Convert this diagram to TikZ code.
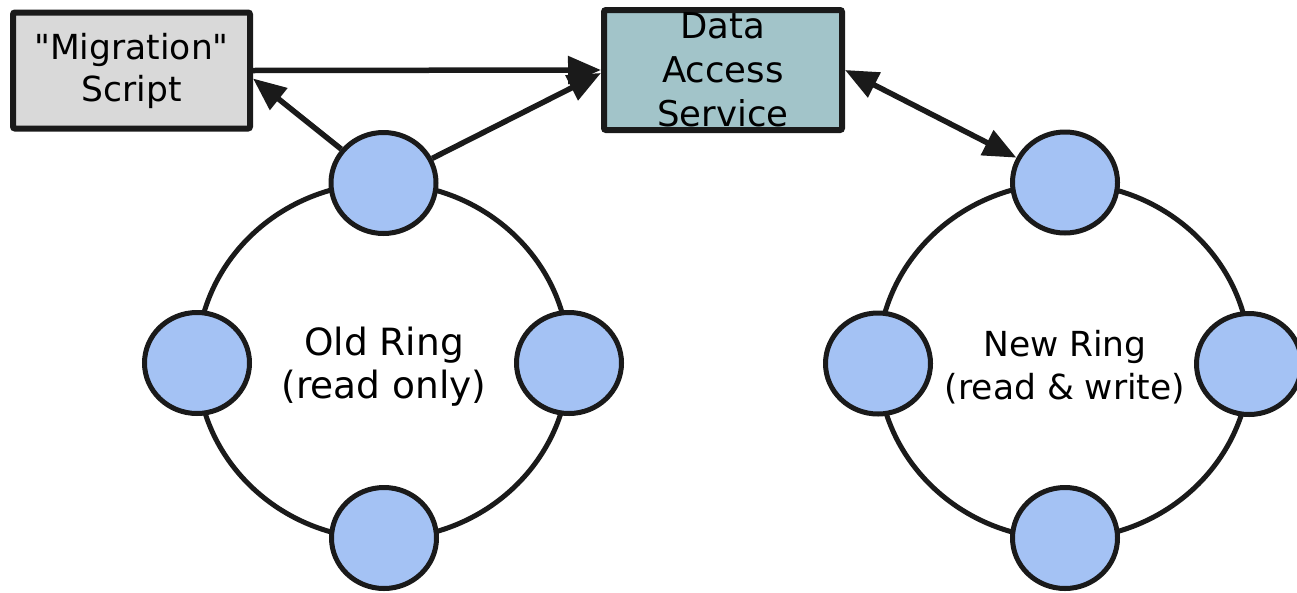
\documentclass[tikz,border=0pt]{standalone}
\usepackage{fontspec}
\setmainfont{DejaVu Sans}[Ligatures=TeXOff]
\usetikzlibrary{shapes.geometric,arrows.meta}
\definecolor{linec}{HTML}{1A1A1A}
\definecolor{grayfill}{HTML}{D9D9D9}
\definecolor{tealfill}{HTML}{A2C4C9}
\definecolor{bluefill}{HTML}{A4C2F4}
\tikzset{
  txt/.style={font=\fontsize{37.5}{43}\selectfont, align=center, text=black},
  boxnode/.style={align=center, text=black, draw=linec, line width=6pt, rounded corners=2pt, inner sep=0pt,
     minimum width=237pt, minimum height=116pt},
  ringnode/.style={ellipse, draw=linec, fill=bluefill, line width=5pt, inner sep=0pt,
     minimum width=105pt, minimum height=101pt},
  ringline/.style={draw=linec, line width=5pt},
  arr/.style={draw=linec, line width=5.5pt, -{Triangle[length=33pt,width=27pt]}},
  arrtwo/.style={draw=linec, line width=5.5pt, {Triangle[length=33pt,width=27pt]}-{Triangle[length=33pt,width=27pt]}}
}
\begin{document}
\begin{tikzpicture}[x=1pt,y=-1pt]
\useasboundingbox (0,0) rectangle (1297,592);
% rings
\draw[ringline] (383,361) ellipse [x radius=186, y radius=178];
\draw[ringline] (1064,361) ellipse [x radius=186, y radius=178];
% boxes
\node[boxnode, fill=grayfill, font=\fontsize{34.5}{42}\selectfont] (mig) at (131.5,70.5) {"Migration"\\Script};
\node[boxnode, fill=tealfill, minimum width=238pt, minimum height=120pt, font=\fontsize{35.5}{44}\selectfont] (das) at (723,70) {Data\\Access\\Service};
% old ring nodes
\node[ringnode] (oldtop) at (383.5,183) {};
\node[ringnode] (oldleft) at (197,363) {};
\node[ringnode] (oldright) at (569,363) {};
\node[ringnode] (oldbottom) at (384,538) {};
\node[txt] (oldlabel) at (384,367) {Old Ring\\(read only)};
% new ring nodes
\node[ringnode] (newtop) at (1065,182.5) {};
\node[ringnode] (newleft) at (878,363.5) {};
\node[ringnode] (newright) at (1249,364) {};
\node[ringnode] (newbottom) at (1065,538) {};
\node[txt, font=\fontsize{34.5}{43}\selectfont] (newlabel) at (1065,367) {New Ring\\(read \& write)};
% connectors
\draw[arr] (mig.east) -- (das.west);
\draw[arr] (oldtop) -- ([yshift=-8pt]mig.east);
\draw[arr] (oldtop) -- ([yshift=-3pt]das.west);
\draw[arrtwo] (das.east) -- (newtop);
\end{tikzpicture}
\end{document}
